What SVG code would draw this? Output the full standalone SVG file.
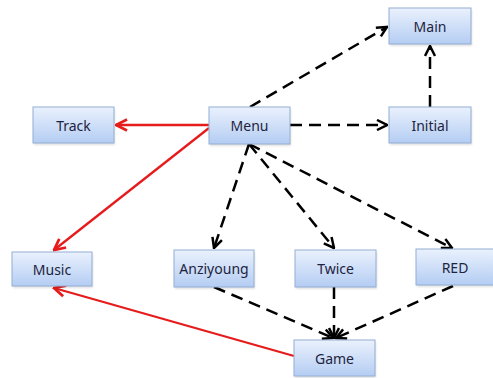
<svg xmlns="http://www.w3.org/2000/svg" width="493" height="378" viewBox="0 0 493 378">
  <style>
    .box rect.face { fill: url(#boxFill); stroke: #93aed3; stroke-width: 1; }
    .box rect.shade { fill: #000; opacity: 0.12; filter: url(#soft); }
    .box text { font-family: "Noto Sans", "Open Sans", "DejaVu Sans", sans-serif; font-size: 14px; fill: #1d2440; text-anchor: middle; dominant-baseline: central; }
    .dash { stroke: #000; stroke-width: 2.5; stroke-dasharray: 12 7; fill: none; marker-end: url(#headBlack); }
    .red { stroke: #e61c1c; stroke-width: 2.3; fill: none; marker-end: url(#headRed); }
  </style>
  <defs>
    <linearGradient id="boxFill" x1="0" y1="0" x2="0" y2="1">
      <stop offset="0" stop-color="#eaf1fd"/>
      <stop offset="1" stop-color="#b4cdf3"/>
    </linearGradient>
    <filter id="soft" x="-10%" y="-10%" width="120%" height="130%">
      <feGaussianBlur stdDeviation="1"/>
    </filter>
    <marker id="headBlack" viewBox="0 0 10 10" refX="9" refY="5" markerWidth="5" markerHeight="5" orient="auto" markerUnits="strokeWidth">
      <path d="M1,1 L9,5 L1,9" fill="none" stroke="#000" stroke-width="2"/>
    </marker>
    <marker id="headRed" viewBox="0 0 10 10" refX="9" refY="5" markerWidth="6" markerHeight="6" orient="auto" markerUnits="strokeWidth">
      <path d="M1,1 L9,5 L1,9" fill="none" stroke="#e61c1c" stroke-width="2"/>
    </marker>
  </defs>

  <g id="connectors">
    <path class="dash" d="M250,107 L387,27"/>
    <path class="dash" d="M290,125 L387,125"/>
    <path class="dash" d="M430,107 L430,46"/>
    <path class="dash" d="M249,144 L214,248"/>
    <path class="dash" d="M249,144 L334,248"/>
    <path class="dash" d="M249,144 L452,248"/>
    <path class="dash" d="M214,287 L333,338"/>
    <path class="dash" d="M334,287 L334,338"/>
    <path class="dash" d="M453,286 L336,338"/>
    <path class="red" d="M209,125 L116,125"/>
    <path class="red" d="M209,128 L54,250"/>
    <path class="red" d="M294,356 L54,288"/>
  </g>

  <g id="node-main" class="box">
    <rect class="shade" x="390" y="10" width="82" height="36"/>
    <rect class="face" x="389" y="8" width="82" height="36"/>
    <text x="430" y="26">Main</text>
  </g>
  <g id="node-track" class="box">
    <rect class="shade" x="34" y="109" width="81" height="36"/>
    <rect class="face" x="33" y="107" width="81" height="36"/>
    <text x="73.5" y="125">Track</text>
  </g>
  <g id="node-menu" class="box">
    <rect class="shade" x="210" y="109" width="81" height="37"/>
    <rect class="face" x="209" y="107" width="81" height="37"/>
    <text x="249.5" y="125.5">Menu</text>
  </g>
  <g id="node-initial" class="box">
    <rect class="shade" x="390" y="109" width="82" height="36"/>
    <rect class="face" x="389" y="107" width="82" height="36"/>
    <text x="430" y="125">Initial</text>
  </g>
  <g id="node-music" class="box">
    <rect class="shade" x="13" y="254" width="80" height="34"/>
    <rect class="face" x="12" y="252" width="80" height="34"/>
    <text x="52" y="269">Music</text>
  </g>
  <g id="node-anziyoung" class="box">
    <rect class="shade" x="175" y="252" width="80" height="37"/>
    <rect class="face" x="174" y="250" width="80" height="37"/>
    <text x="214" y="268.5">Anziyoung</text>
  </g>
  <g id="node-twice" class="box">
    <rect class="shade" x="296" y="252" width="81" height="37"/>
    <rect class="face" x="295" y="250" width="81" height="37"/>
    <text x="335.5" y="268.5">Twice</text>
  </g>
  <g id="node-red" class="box">
    <rect class="shade" x="417" y="251" width="80" height="36"/>
    <rect class="face" x="416" y="249" width="80" height="36"/>
    <text x="455" y="267">RED</text>
  </g>
  <g id="node-game" class="box">
    <rect class="shade" x="295" y="342" width="81" height="36"/>
    <rect class="face" x="294" y="340" width="81" height="36"/>
    <text x="334.5" y="358">Game</text>
  </g>
</svg>
